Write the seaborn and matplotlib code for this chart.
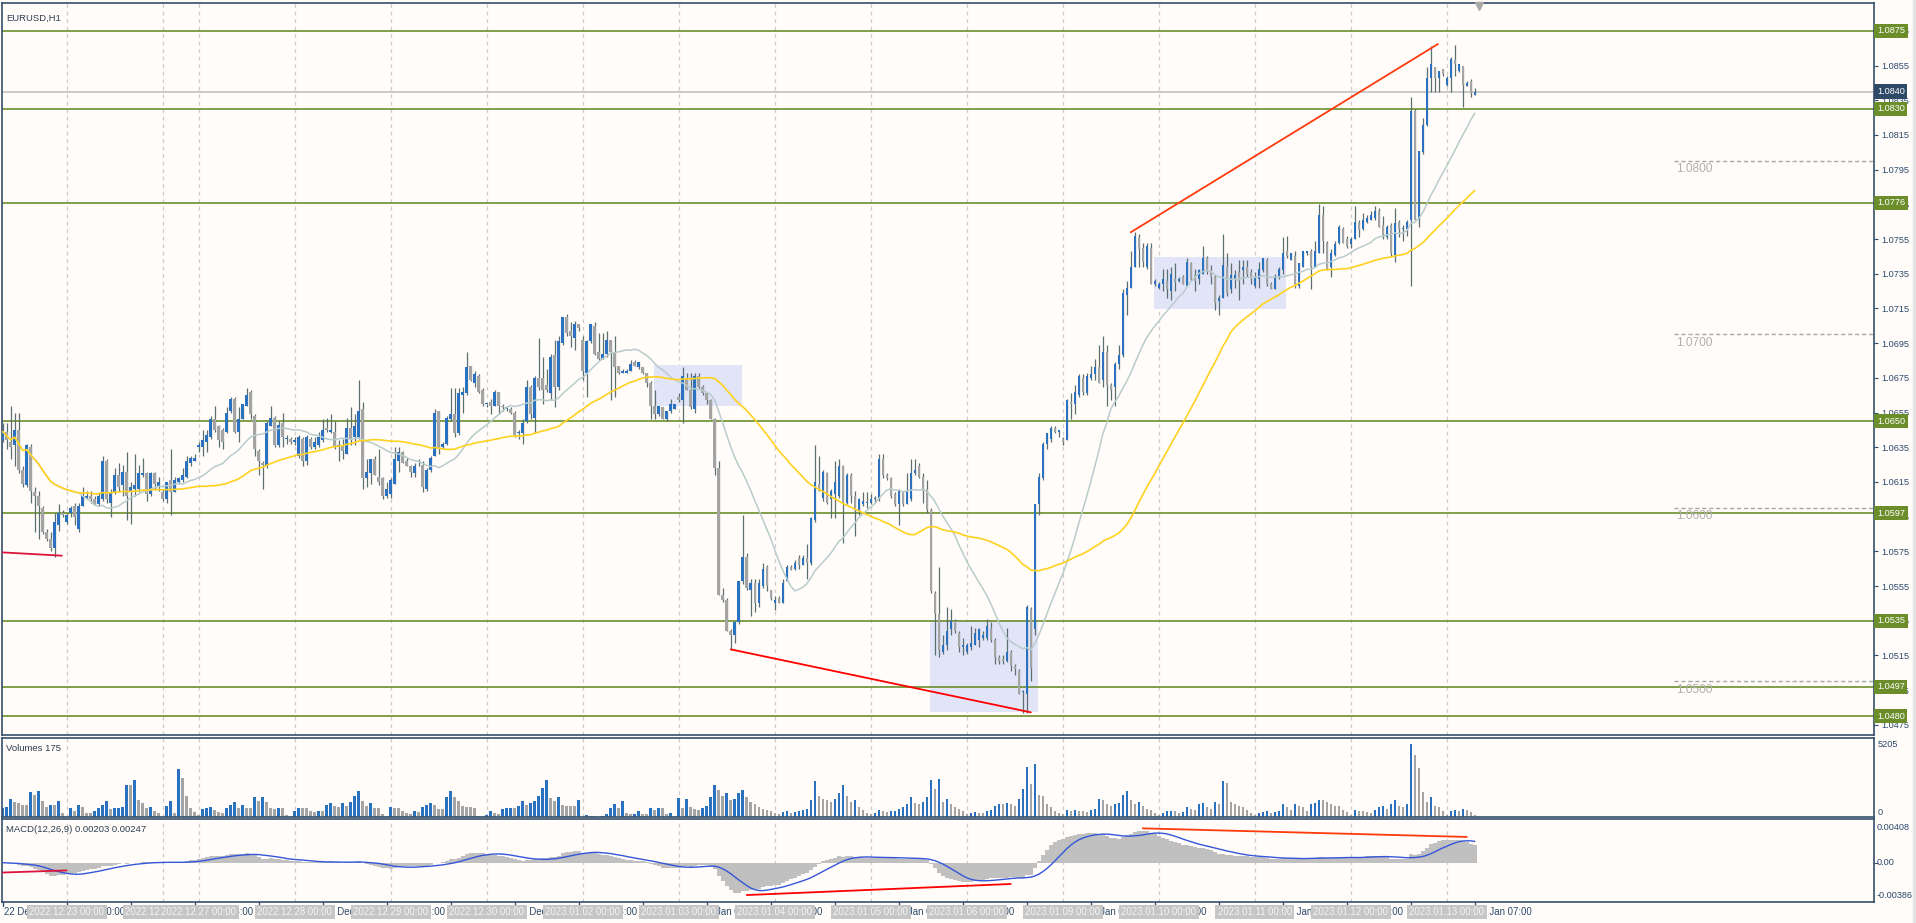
import numpy as np
import pandas as pd
import matplotlib
matplotlib.use("Agg")
import matplotlib.pyplot as plt
import matplotlib.transforms as mtransforms
import seaborn as sns

# ---------------- data (prices stored as pips above 1.0000, e.g. 644 -> 1.0644) ----------------
days = ["2022.12.22", "2022.12.23", "2022.12.26", "2022.12.27", "2022.12.28", "2022.12.29",
        "2022.12.30", "2023.01.02", "2023.01.03", "2023.01.04", "2023.01.05", "2023.01.06",
        "2023.01.09", "2023.01.10", "2023.01.11", "2023.01.12", "2023.01.13"]
day_first_hour = [8, 0, 15, 0, 0, 0, 0, 0, 0, 0, 0, 0, 0, 0, 0, 0, 0]
day_bar_count = [16, 24, 9, 24, 24, 24, 24, 24, 24, 24, 24, 24, 24, 24, 24, 24, 8]

opens = [639,644,638,636,645,622,613,635,609,607, 600,586,582,577,590,597,592,597,601,588,
         601,606,607,605,602,605,627,603,609,619, 613,621,609,611,611,619,620,608,620,612,
         609,605,616,609,615,616,618,626,627,635, 635,638,641,651,647,645,644,656,663,644,
         651,659,667,653,633,626,624,647,652,636, 649,640,640,638,630,640,627,640,635,636,
         639,646,644,644,635,636,631,646,641,641, 657,617,620,628,618,617,607,608,614,627,
         632,627,624,620,624,625,611,622,630,656, 635,637,651,654,643,665,666,682,672,676,
         668,660,661,659,667,659,657,657,655,643, 643,650,670,652,675,675,671,666,688,670,
         695,710,702,698,706,697,678,696,705,690, 686,689,697,690,682,678,678,679,684,681,
         681,678,672,659,654,658,651,656,657,664, 662,675,668,657,676,670,666,662,651,623,
         550,547,529,527,534,558,572,553,557,545, 555,566,553,545,548,545,558,566,565,571,
         567,571,568,593,614,606,620,605,608,607, 624,603,619,607,598,602,603,603,605,605,
         628,619,617,608,602,609,602,605,620,624, 618,611,599,551,539,517,521,530,535,528,
         520,517,520,521,524,525,525,531,524,514, 513,512,517,509,506,494,493,542,530,602,
         617,637,640,646,644,640,639,661,660,665, 675,666,675,677,681,674,690,671,670,683,
         688,723,727,739,756,750,739,750,729,727, 729,731,725,732,731,733,728,741,734,732,
         735,744,737,733,719,721,739,726,732,736, 737,739,736,728,732,737,743,729,726,733,
         737,748,743,745,728,739,747,748,739,747, 769,753,739,746,753,761,755,752,755,764,
         761,765,766,767,771,763,756,763,746,765, 761,761,766,829,766,805,821,848,854,848,
         853,844,848,858,852,855,843,846,838]
highs = [649,649,659,655,655,624,637,637,612,610, 601,588,586,597,602,599,597,601,603,603,
         612,610,610,607,609,630,628,611,623,626, 625,632,615,631,625,629,621,621,621,618,
         611,615,634,618,618,623,630,630,631,638, 645,645,653,659,648,646,658,664,664,658,
         660,669,668,654,634,627,650,659,653,650, 655,642,641,641,642,641,642,641,641,644,
         651,652,654,650,639,640,652,658,654,674, 661,628,628,630,634,618,615,617,635,635,
         633,629,625,626,628,627,623,630,657,656, 638,653,669,669,669,670,690,682,679,677,
         669,660,663,668,667,660,659,658,656,645, 651,674,671,676,698,687,680,689,697,699,
         710,712,707,708,706,699,697,706,707,701, 701,702,697,699,682,680,680,685,685,684,
         681,678,673,668,659,658,656,663,660,666, 681,678,678,678,678,671,667,663,652,627,
         554,548,530,535,558,596,574,559,559,559, 568,567,553,549,549,559,567,567,570,573,
         573,579,595,636,630,622,621,611,627,628, 625,620,620,610,606,609,609,608,607,631,
         631,620,618,609,611,610,620,628,628,626, 620,616,600,552,566,527,543,542,536,529,
         525,522,532,531,531,529,536,534,525,515, 515,531,518,510,507,495,544,543,602,620,
         638,643,647,647,645,641,663,666,671,677, 677,678,682,686,694,699,694,672,684,694,
         726,731,748,759,758,753,753,753,732,730, 738,738,739,741,733,734,744,742,738,738,
         751,745,740,734,723,758,747,741,737,743, 743,743,738,736,742,744,744,730,735,739,
         756,757,747,748,741,748,748,749,754,775, 774,754,749,754,763,762,757,756,774,766,
         770,769,771,774,773,768,763,764,773,766, 763,766,837,830,806,825,854,866,854,852,
         853,849,860,867,856,855,846,847,842]
lows = [638,634,628,624,620,612,612,603,586,582, 585,581,575,572,587,595,591,595,590,586,
        601,605,603,602,601,604,603,595,608,609, 607,593,591,607,609,618,604,607,611,610,
        604,603,596,609,614,615,617,624,627,632, 630,632,640,644,635,634,643,655,643,638,
        651,659,651,630,619,611,623,647,635,635, 635,637,637,636,629,624,625,634,634,635,
        638,644,643,634,627,628,631,636,636,640, 611,612,614,619,613,605,606,606,614,621,
        626,624,618,618,624,609,610,621,630,631, 634,636,650,641,642,655,665,673,670,666,
        659,658,654,659,654,656,656,654,641,640, 637,649,651,643,668,660,667,662,658,668,
        694,699,693,691,702,674,664,695,688,685, 686,687,662,664,677,678,678,679,682,680,
        677,670,651,651,653,651,650,655,657,661, 649,668,657,655,669,665,660,651,619,550,
        546,529,518,522,533,556,553,538,540,543, 554,552,547,541,545,545,558,564,564,565,
        567,559,567,592,610,604,602,594,594,606, 580,602,603,584,596,601,600,602,603,604,
        617,616,606,601,590,601,602,604,619,617, 603,597,551,515,514,516,518,527,528,517,
        515,516,518,521,520,524,524,523,510,510, 510,511,506,504,493,482,482,500,527,596,
        616,634,638,643,641,636,639,651,654,664, 665,665,674,674,672,670,659,662,659,680,
        687,711,727,739,739,739,738,729,728,726, 725,721,720,725,730,729,728,731,725,729,
        735,735,729,714,711,721,722,724,727,720, 729,733,729,727,727,736,728,726,726,732,
        735,744,743,727,727,739,746,726,739,747, 747,737,733,745,752,753,750,750,755,756,
        760,764,766,766,762,755,755,745,742,756, 754,757,728,766,762,804,820,840,840,840,
        849,843,840,849,851,831,843,837,838]
closes = [644,639,635,645,622,614,636,610,607,601, 586,582,577,592,597,596,596,600,595,601,
          607,607,605,602,607,627,605,609,619,612, 621,607,612,613,620,620,608,620,614,615,
          605,615,609,616,617,619,627,629,629,636, 639,642,651,645,639,638,655,663,644,651,
          660,665,654,634,627,625,649,652,636,648, 641,640,638,639,641,627,641,635,638,641,
          645,645,645,635,636,633,646,640,647,656, 617,621,628,619,615,607,611,616,628,632,
          626,624,621,624,624,612,622,629,655,634, 637,652,654,643,666,667,681,674,677,667,
          660,660,659,667,659,658,658,655,642,644, 649,670,654,675,670,668,668,687,670,696,
          710,701,699,706,704,679,696,706,689,686, 689,697,690,681,678,679,679,683,682,684,
          678,672,659,654,659,651,656,660,660,662, 676,668,658,676,670,666,662,651,623,550,
          547,529,527,534,558,572,554,557,545,557, 565,555,548,547,545,557,566,564,568,567,
          571,568,594,615,610,621,603,610,615,624, 603,619,607,598,605,604,603,605,606,628,
          619,617,607,602,610,602,610,620,622,618, 610,599,552,539,518,521,529,535,529,520,
          521,521,522,528,530,527,532,524,514,512, 512,517,509,507,493,494,543,508,602,618,
          637,643,646,644,645,638,662,660,667,676, 667,676,677,681,672,690,671,668,683,688,
          724,727,739,757,749,742,751,729,731,729, 732,726,735,730,732,729,742,732,731,737,
          744,737,733,718,721,740,724,734,734,731, 739,735,732,733,738,744,729,726,733,738,
          747,745,747,728,741,748,748,739,748,769, 754,738,747,752,762,753,751,755,765,760,
          766,767,769,771,762,757,762,747,764,761, 761,765,829,766,806,821,848,856,848,852,
          850,848,859,856,856,844,845,839,840]
volumes = [675,723,1277,1084,964,868,868,1807,1590,1880, 1157,723,868,868,1157,313,96,627,434,868,
           723,313,289,434,627,868,1157,554,627,675, 723,2314,2265,2603,1229,964,627,723,434,313,
           96,795,1157,313,3446,2796,1518,627,386,145, 554,675,723,482,386,313,627,868,1084,627,
           868,627,627,1446,1157,1446,1084,627,554,627, 627,145,96,434,627,627,627,434,386,434,
           434,868,964,795,723,964,795,1036,1518,1880, 1109,795,964,627,627,241,96,723,627,627,
           434,289,241,434,386,723,868,964,868,554, 554,1398,1832,1446,1157,795,723,723,627,96,
           48,145,434,313,241,554,627,675,627,795, 1157,868,964,1157,1518,2073,2651,1350,1157,1398,
           868,795,795,795,1205,20,120,48,48,20, 48,241,627,916,627,1157,313,193,241,434,
           241,193,627,482,627,627,193,313,48,1350, 627,1277,723,
           600,500,650,800,1400,2300,1900,1500,1700,1200, 1300,1700,1900,1400,1100,900,700,600,500,400,
           250,200,350,400,300,350,400,500,600,1200,2600,1500,1300,1200,1100,1300,1700,2300,1500,1100,1200,700,500,300,
           200,250,500,450,350,400,450,600,700,900,1400,1000,900,1100,1400,2650,2030,2700,1100,1300,900,700,600,400,
           200,250,350,300,300,400,500,800,900,900,1000,900,800,1300,2000,3600,2340,3750,1560,1500,900,700,400,300,
           200,500,400,500,450,400,350,500,600,1300,1200,900,800,900,1000,1560,1870,1200,900,1100,800,600,500,300,
           150,300,400,450,400,300,350,700,600,500,900,1000,700,600,1100,900,2550,2450,1100,900,800,700,500,300,
           150,300,350,450,300,350,400,900,700,500,900,800,700,400,900,1000,1200,1200,1100,900,800,800,500,350,
           150,500,400,400,350,300,500,700,800,600,900,1200,800,700,900,5205,4400,3500,1800,1100,1400,800,700,400,
           150,450,500,400,600,500,350,175]

symbol_title = "EURUSD,H1"
macd_readout = (0.00203, 0.00247)
volume_max_label = 5205
macd_axis_labels = [(0.00408, "0.00408"), (0.0, "0.00"), (-0.00386, "-0.00386")]
hline_levels = [1.0875, 1.0830, 1.0776, 1.0650, 1.0597, 1.0535, 1.0497, 1.0480]
fib_levels = [1.0800, 1.0700, 1.0600, 1.0500]
current_price = 1.0840
price_ticks = [1.0475 + 0.002 * k for k in range(21)]

# drawn objects: (x0, p0, x1, p1)
rectangles = [(162.8, 1.06589, 184.8, 1.06824), (231.8, 1.04824, 258.7, 1.05354), (287.8, 1.07147, 320.7, 1.07447)]
price_trendlines = [((282.0, 1.07589), (358.8, 1.08674), "#ff3a0a"),
                    ((182.0, 1.05185), (257.0, 1.04822), "#ff0000"),
                    ((-0.2, 1.05744), (14.8, 1.05725), "#dc143c")]
macd_trendlines = [((-0.2, -0.00115), (16.0, -0.00090), "#dc143c"),
                   ((186.0, -0.00377), (252.0, -0.00248), "#ff0000"),
                   ((285.0, 0.00400), (366.0, 0.00300), "#ff3a0a")]

# ---------------- derived series ----------------
n = len(closes)
x = np.arange(n)
to_price = lambda a: 1.0 + np.asarray(a, dtype=float) / 10000.0
O, H, L, C = to_price(opens), to_price(highs), to_price(lows), to_price(closes)
V = np.asarray(volumes, dtype=float)

times = []
for d, h0, cnt in zip(days, day_first_hour, day_bar_count):
    base = pd.Timestamp(d.replace(".", "-"))
    for k in range(cnt):
        times.append(base + pd.Timedelta(hours=h0 + k))
day_starts = list(np.cumsum([0] + day_bar_count[:-1])[1:])

cs = pd.Series(C)
ma_fast = cs.rolling(20, min_periods=1).mean()
ma_slow = cs.rolling(50, min_periods=1).mean()
macd_main = cs.ewm(span=12, adjust=False).mean() - cs.ewm(span=26, adjust=False).mean()
macd_signal = macd_main.rolling(9, min_periods=1).mean()

# ---------------- style ----------------
sns.set_style("white")
plt.rcParams["font.family"] = ["Liberation Sans", "DejaVu Sans"]
BG = "#fffcfa"
FRAME = "#34506b"
TXT = "#2b4a6b"
BLUE = "#2a72c0"
GRAY = "#a4a4a4"
WICK = "#5b6e70"
GREEN = "#6b8e2a"
FS = 6.6

W, Hh = 1916, 923
fig = plt.figure(figsize=(W / 100, Hh / 100), dpi=100, facecolor=BG)
fig.patches.append(plt.Rectangle((1913 / W, 0), 3 / W, 1, transform=fig.transFigure,
                                 color="#e4e4e4", zorder=0))

def px_axes(x0, y0, x1, y1):
    return fig.add_axes([x0 / W, 1 - y1 / Hh, (x1 - x0) / W, (y1 - y0) / Hh])

ax = px_axes(2, 3, 1874, 735)
axv = px_axes(2, 738, 1874, 817)
axm = px_axes(2, 819, 1874, 902)
XL = (-0.175, 467.8)

for a in (ax, axv, axm):
    a.set_facecolor(BG)
    a.set_xlim(*XL)
    for s in a.spines.values():
        s.set_color(FRAME)
        s.set_linewidth(1.2)
    a.set_xticks([])
    a.tick_params(axis="y", which="both", left=False)
    for ds in day_starts:
        a.axvline(ds, color="#cbcbcb", lw=0.9, ls=(0, (3, 3)), zorder=0.5)

# ---------------- main price pane ----------------
ax.set_ylim(1.046914, 1.089104)
for (x0, p0, x1, p1) in rectangles:
    ax.add_patch(plt.Rectangle((x0, p0), x1 - x0, p1 - p0, facecolor="#e2e5f8", edgecolor="none", zorder=0.8))
for lv in hline_levels:
    ax.axhline(lv, color=GREEN, lw=1.2, zorder=1)
ax.axhline(current_price, color="#bdbdbd", lw=1.1, zorder=1)
for lv in fib_levels:
    ax.plot([417.8, XL[1]], [lv, lv], color="#a8a8a8", lw=1.0, ls=(0, (3, 2)), zorder=1)
    ax.text(418.3, lv - 0.00012, f"{lv:.4f}", color="#b0b0b0", fontsize=8.6, va="top", ha="left", zorder=1)

up = C >= O
body_lo = np.minimum(O, C)
body_h = np.maximum(np.abs(C - O), 0.00004)
wick_lo = np.minimum(L, body_lo)
wick_hi = np.maximum(H, np.maximum(O, C))
ax.vlines(x, wick_lo, wick_hi, color=WICK, lw=0.9, zorder=2)
ax.bar(x[up], body_h[up], bottom=body_lo[up], width=0.62, color=BLUE, zorder=3, linewidth=0)
ax.bar(x[~up], body_h[~up], bottom=body_lo[~up], width=0.62, color=GRAY, zorder=3, linewidth=0)

ma_df = pd.DataFrame({"x": x, "fast": ma_fast, "slow": ma_slow})
sns.lineplot(data=ma_df, x="x", y="fast", ax=ax, color="#b8cccc", lw=1.1, zorder=4, legend=False)
sns.lineplot(data=ma_df, x="x", y="slow", ax=ax, color="#ffd21f", lw=1.2, zorder=4, legend=False)

for (a0, a1, col) in price_trendlines:
    ax.plot([a0[0], a1[0]], [a0[1], a1[1]], color=col, lw=1.3, zorder=5)

ax.set_xlabel("")
ax.set_ylabel("")
ax.yaxis.tick_right()
ax.set_yticks(price_ticks)
ax.set_yticklabels([f"{t:.4f}" for t in price_ticks])
ax.tick_params(axis="y", which="both", right=True, left=False, length=3, width=0.8, colors=FRAME,
               labelcolor=TXT, labelsize=FS, pad=2.5)
ax.set_xlim(*XL)

tr = mtransforms.blended_transform_factory(ax.transAxes, ax.transData)
box_kw = dict(boxstyle="square,pad=0.28", ec="none")
for lv in hline_levels:
    ax.text(1.0016, lv, f"{lv:.4f}", transform=tr, fontsize=FS, color="white", va="center", ha="left",
            bbox=dict(fc=GREEN, **box_kw), zorder=10, clip_on=False)
ax.text(1.0016, current_price, f"{current_price:.4f}", transform=tr, fontsize=FS, color="white", va="center",
        ha="left", bbox=dict(fc="#2e4a66", **box_kw), zorder=11, clip_on=False)
ax.text(0.0025, 0.985, symbol_title, transform=ax.transAxes, fontsize=6.8, color="#2d3e50", va="top", ha="left")
ax.plot([369.1], [1.08895], marker="v", color="#a8a8a8", markersize=6, clip_on=False, zorder=6)

# ---------------- volumes pane ----------------
axv.set_ylim(0, 5633)
vcol = [BLUE if (i == 0 or V[i] > V[i - 1]) else GRAY for i in range(n)]
axv.bar(x, V, width=0.62, color=vcol, linewidth=0, zorder=2)
axv.set_yticks([])
axv.text(0.002, 0.93, f"Volumes {int(V[-1])}", transform=axv.transAxes, fontsize=6.8, color="#2d3e50",
         va="top", ha="left")
trv = mtransforms.blended_transform_factory(axv.transAxes, axv.transData)
axv.text(1.002, volume_max_label, str(volume_max_label), transform=trv, fontsize=FS, color=TXT,
         va="center", ha="left", clip_on=False)
axv.text(1.002, 0, "0", transform=trv, fontsize=FS, color=TXT, va="bottom", ha="left", clip_on=False)

# ---------------- MACD pane ----------------
axm.set_ylim(-0.00458, 0.00509)
axm.bar(x, macd_main.values, width=1.0, color="#c0c0c0", linewidth=0, zorder=2)
mdf = pd.DataFrame({"x": x, "signal": macd_signal.values})
sns.lineplot(data=mdf, x="x", y="signal", ax=axm, color="#3556d8", lw=1.0, zorder=3, legend=False)
for (a0, a1, col) in macd_trendlines:
    axm.plot([a0[0], a1[0]], [a0[1], a1[1]], color=col, lw=1.3, zorder=4)
axm.set_xlabel("")
axm.set_ylabel("")
axm.set_xlim(*XL)
axm.text(0.002, 0.93, f"MACD(12,26,9) {macd_readout[0]:.5f} {macd_readout[1]:.5f}",
         transform=axm.transAxes, fontsize=6.8, color="#2d3e50", va="top", ha="left")
trm = mtransforms.blended_transform_factory(axm.transAxes, axm.transData)
for val, txt in macd_axis_labels:
    axm.text(1.0015, val, txt, transform=trm, fontsize=FS, color=TXT, va="center", ha="left", clip_on=False)
axm.yaxis.tick_right()
axm.set_yticks([0.0])
axm.set_yticklabels([""])
axm.tick_params(axis="y", right=True, left=False, length=3, colors=FRAME)

# ---------------- time axis ----------------
trx = mtransforms.blended_transform_factory(axm.transData, fig.transFigure)
ytxt = 1 - 912 / Hh
for b in range(0, n, 16):
    axm.plot([b, b], [1 - 902 / Hh, 1 - 906 / Hh], transform=trx, color=FRAME, lw=1, clip_on=False)
    t = times[b]
    label = "22 Dec 2022" if b == 0 else f"{t.day} {t.strftime('%b')} {t.strftime('%H:%M')}"
    axm.text(b + 0.3, ytxt, label, transform=trx, fontsize=6.9, color=TXT, va="center", ha="left", clip_on=False)
for ds in day_starts:
    t = times[ds]
    lab = t.strftime("%Y.%m.%d") + " 00:00"
    axm.text(ds, ytxt, lab, transform=trx, fontsize=6.9, color="#f4f4f4", va="center", ha="center",
             bbox=dict(boxstyle="square,pad=0.25", fc="#c6c6c6", ec="none"), clip_on=False, zorder=10)

fig.savefig("out.png", dpi=100, facecolor=BG)
